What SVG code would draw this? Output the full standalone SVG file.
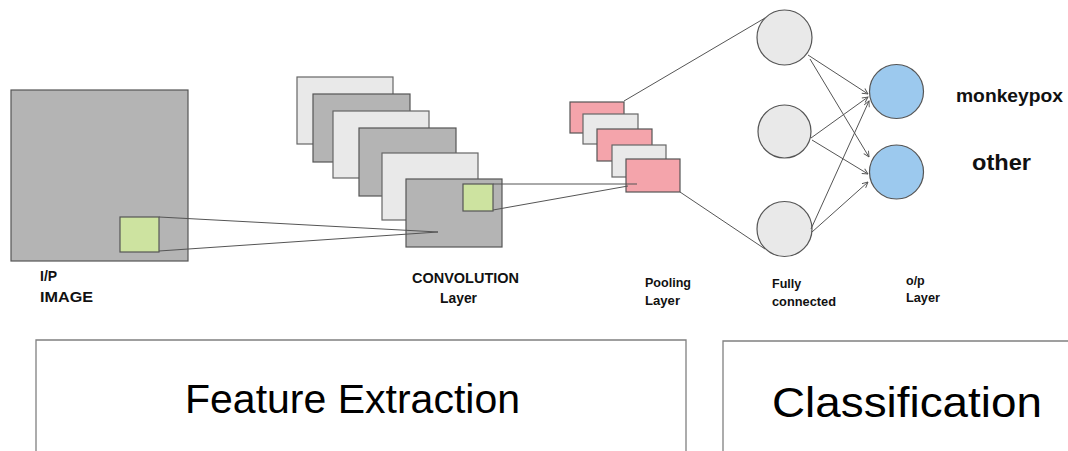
<svg xmlns="http://www.w3.org/2000/svg" width="1068" height="451" viewBox="0 0 1068 451">
  <style>
    .lbl { font-family: "Liberation Sans", Arial, sans-serif; font-weight: bold; fill: #111; }
    .big { font-family: "Liberation Sans", Arial, sans-serif; fill: #000; }
    .map-dark { fill: #b4b4b4; stroke: #555; stroke-width: 1.2; }
    .map-light { fill: #e9e9e9; stroke: #666; stroke-width: 1.2; }
    .patch { fill: #cde3a0; stroke: #555; stroke-width: 1.2; }
    .pool { fill: #f4a4ab; stroke: #555; stroke-width: 1.2; }
    .fc { fill: #e9e9e9; stroke: #555; stroke-width: 1.2; }
    .out { fill: #9cc9ee; stroke: #555; stroke-width: 1.2; }
    .edge { stroke: #555; stroke-width: 1; fill: none; }
    .frame { stroke: #808080; stroke-width: 1.3; fill: none; }
  </style>
  <defs>
    <marker id="arr" viewBox="0 0 10 10" refX="9" refY="5" markerWidth="7" markerHeight="7" orient="auto" markerUnits="userSpaceOnUse">
      <path d="M1,1 L9,5 L1,9" fill="none" stroke="#555" stroke-width="1.3"/>
    </marker>
  </defs>
  <rect width="1068" height="451" fill="#fff"/>

  <!-- input image -->
  <g id="input-image">
    <rect class="map-dark" x="11" y="90" width="177" height="171"/>
    <rect class="patch" x="120" y="217" width="39" height="35"/>
    <text class="lbl" x="40" y="281" font-size="14">I/P</text>
    <text class="lbl" x="40" y="302" font-size="14" textLength="53" lengthAdjust="spacingAndGlyphs">IMAGE</text>
  </g>

  <!-- convolution feature maps -->
  <g id="conv-layer">
    <rect class="map-light" x="297" y="77" width="96" height="67"/>
    <rect class="map-dark" x="313" y="94" width="97" height="68"/>
    <rect class="map-light" x="333" y="111" width="96" height="67"/>
    <rect class="map-dark" x="359" y="128" width="97" height="68"/>
    <rect class="map-light" x="382" y="153" width="96" height="67"/>
    <rect class="map-dark" x="406" y="179" width="96" height="68"/>
    <rect class="patch" x="463" y="184" width="30" height="27"/>
    <text class="lbl" x="412" y="283" font-size="14" textLength="107" lengthAdjust="spacingAndGlyphs">CONVOLUTION</text>
    <text class="lbl" x="440" y="303" font-size="14" textLength="37" lengthAdjust="spacingAndGlyphs">Layer</text>
  </g>

  <!-- pooling maps -->
  <g id="pooling-layer">
    <rect class="pool" x="570" y="102" width="54" height="31"/>
    <rect class="map-light" x="583" y="114" width="55" height="30"/>
    <rect class="pool" x="597" y="129" width="55" height="32"/>
    <rect class="map-light" x="612" y="145" width="54" height="32"/>
    <rect class="pool" x="626" y="159" width="54" height="33"/>
    <text class="lbl" x="645" y="287" font-size="13" textLength="46" lengthAdjust="spacingAndGlyphs">Pooling</text>
    <text class="lbl" x="645" y="305" font-size="13" textLength="35" lengthAdjust="spacingAndGlyphs">Layer</text>
  </g>

  <!-- fully connected neurons -->
  <g id="fully-connected">
    <circle class="fc" cx="784.5" cy="37.5" r="27.5"/>
    <circle class="fc" cx="784.5" cy="131.5" r="26.5"/>
    <circle class="fc" cx="784.5" cy="229" r="27.5"/>
    <text class="lbl" x="772" y="288" font-size="12.5">Fully</text>
    <text class="lbl" x="772" y="306" font-size="12.5" textLength="64" lengthAdjust="spacingAndGlyphs">connected</text>
  </g>

  <!-- output neurons -->
  <g id="output-layer">
    <circle class="out" cx="896.5" cy="91.5" r="27"/>
    <circle class="out" cx="896.5" cy="172" r="27"/>
    <text class="lbl" x="906" y="285" font-size="12.5">o/p</text>
    <text class="lbl" x="906" y="302" font-size="12.5" textLength="34" lengthAdjust="spacingAndGlyphs">Layer</text>
  </g>

  <g id="class-labels">
    <text class="lbl" x="956" y="102" font-size="18" textLength="107" lengthAdjust="spacingAndGlyphs">monkeypox</text>
    <text class="lbl" x="972" y="170" font-size="22" textLength="59" lengthAdjust="spacingAndGlyphs">other</text>
  </g>

  <!-- connectors -->
  <g id="connectors">
    <line class="edge" x1="159" y1="217" x2="438" y2="232"/>
    <line class="edge" x1="159" y1="251" x2="438" y2="232"/>
    <line class="edge" x1="493" y1="184" x2="637" y2="184"/>
    <line class="edge" x1="493" y1="210" x2="628" y2="186"/>
    <line class="edge" x1="624" y1="101" x2="765" y2="18"/>
    <line class="edge" x1="680" y1="192" x2="765" y2="249"/>
    <line class="edge" x1="808" y1="55" x2="868" y2="94" marker-end="url(#arr)"/>
    <line class="edge" x1="810" y1="59" x2="869" y2="157" marker-end="url(#arr)"/>
    <line class="edge" x1="811" y1="138" x2="868" y2="97" marker-end="url(#arr)"/>
    <line class="edge" x1="812" y1="140" x2="868" y2="174" marker-end="url(#arr)"/>
    <line class="edge" x1="811" y1="229" x2="869" y2="101" marker-end="url(#arr)"/>
    <line class="edge" x1="812" y1="232" x2="868" y2="182" marker-end="url(#arr)"/>
  </g>

  <!-- stage frames -->
  <g id="feature-extraction">
    <path class="frame" d="M36,451 V340 H686 V451"/>
    <text class="big" x="185" y="413" font-size="41" textLength="335" lengthAdjust="spacingAndGlyphs">Feature Extraction</text>
  </g>
  <g id="classification">
    <path class="frame" d="M723,451 V341 H1068"/>
    <text class="big" x="772" y="417" font-size="42" textLength="270" lengthAdjust="spacingAndGlyphs">Classification</text>
  </g>
</svg>
